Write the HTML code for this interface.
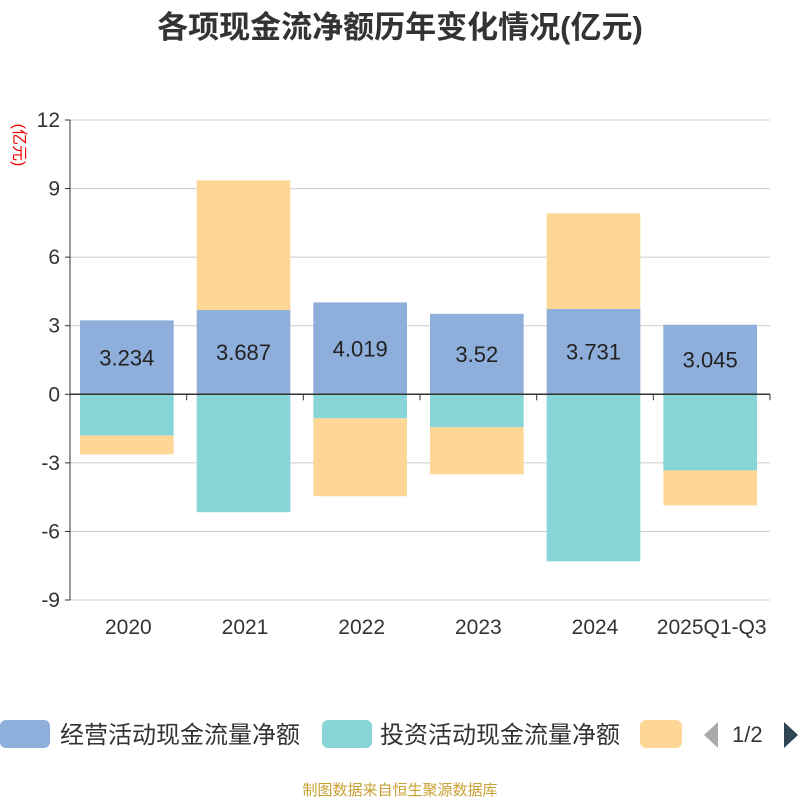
<!DOCTYPE html>
<html><head><meta charset="utf-8"><style>
body{margin:0;background:#fff;width:800px;height:800px;overflow:hidden;font-family:"Liberation Sans","Noto Sans CJK SC",sans-serif}
</style></head><body>
<svg id="c" width="800" height="800" xmlns="http://www.w3.org/2000/svg">
<text x="400" y="38" text-anchor="middle" font-size="31" font-weight="bold" fill="#333" font-family="Liberation Sans,Noto Sans CJK SC,sans-serif">各项现金流净额历年变化情况(亿元)</text>
<text transform="translate(14,145) rotate(90)" text-anchor="middle" font-size="16" fill="#e00" font-family="Liberation Sans,Noto Sans CJK SC,sans-serif">(亿元)</text>
<g id="grid"></g><g id="bars"></g><g id="axes"></g>
<g>
<rect x="0" y="720" width="50" height="28" rx="6" fill="#8eaedb"/>
<text x="60" y="743" font-size="24" fill="#333">经营活动现金流量净额</text>
<rect x="322" y="720" width="50" height="28" rx="6" fill="#88d5d8"/>
<text x="380" y="743" font-size="24" fill="#333">投资活动现金流量净额</text>
<rect x="640" y="720" width="42" height="28" rx="6" fill="#fed797"/>
<path d="M718 722 L704 735 L718 748 Z" fill="#aaa"/>
<text x="732" y="742" font-size="22" fill="#333">1/2</text>
<path d="M784 722 L798 735 L784 748 Z" fill="#2f4554"/>
</g>
<text x="400" y="795" text-anchor="middle" font-size="15" fill="#c8a032">制图数据来自恒生聚源数据库</text>
</svg>
<script>
const categories=["2020","2021","2022","2023","2024","2025Q1-Q3"];
const operating=[3.234,3.687,4.019,3.52,3.731,3.045];
const investing=[-1.8,-5.16,-1.05,-1.44,-7.31,-3.33];
const financing=[-0.83,5.67,-3.41,-2.06,4.19,-1.53];
const yTicks=[12,9,6,3,0,-3,-6,-9];
const NS="http://www.w3.org/2000/svg";
const x0=70,x1=770,yTop=120,yBot=600,vMax=12,vMin=-9;
const y=v=>yTop+(vMax-v)/(vMax-vMin)*(yBot-yTop);
const bw=(x1-x0)/categories.length;
function mk(t,a,p){const e=document.createElementNS(NS,t);for(const k in a)e.setAttribute(k,a[k]);p.appendChild(e);return e;}
const grid=document.getElementById('grid'),bars=document.getElementById('bars'),axes=document.getElementById('axes');
yTicks.forEach(v=>{
 const l=mk('line',{x1:x0,x2:x1,y1:y(v),y2:y(v),stroke:'#ccc','stroke-width':1},grid);
 
 
 const tk=mk('line',{x1:x0-5,x2:x0,y1:y(v),y2:y(v),stroke:'#333'},axes);
 
 
 const t=mk('text',{x:x0-10,y:y(v)+7,'text-anchor':'end','font-size':21,fill:'#333'},axes);
 t.textContent=v;
 
 
});
const series=[[operating,'#8eaedb','operating'],[investing,'#88d5d8','investing'],[financing,'#fed797','financing']];
categories.forEach((c,i)=>{
 let pos=0,neg=0;const bx=x0+i*bw+10,w=bw-23;
 series.forEach(([arr,col,nm])=>{
  const v=arr[i];let a,b;
  if(v>=0){a=pos;b=pos+v;pos=b;}else{a=neg;b=neg+v;neg=b;}
  const r=mk('rect',{x:bx,width:w,y:Math.min(y(a),y(b)),height:Math.abs(y(a)-y(b)),fill:col},bars);
  
  
 });
 const t=mk('text',{x:bx+w/2,y:y(operating[i]/2)+8,'text-anchor':'middle','font-size':22,fill:'#222'},bars);
 t.textContent=operating[i];
 
 
 const xt=mk('text',{x:x0+(i+0.5)*bw,y:634,'text-anchor':'middle','font-size':21,fill:'#333'},axes);
 xt.textContent=c;
 
 
});
for(let i=0;i<=categories.length;i++){
 const tk=mk('line',{x1:x0+i*bw,x2:x0+i*bw,y1:y(0),y2:y(0)+6,stroke:'#333'},axes);
 
 
}
const ya=mk('line',{x1:x0,x2:x0,y1:yTop,y2:yBot,stroke:'#333'},axes);


const xa=mk('line',{x1:x0,x2:x1,y1:y(0),y2:y(0),stroke:'#333','stroke-width':1.5},axes);


</script>
</body></html>
